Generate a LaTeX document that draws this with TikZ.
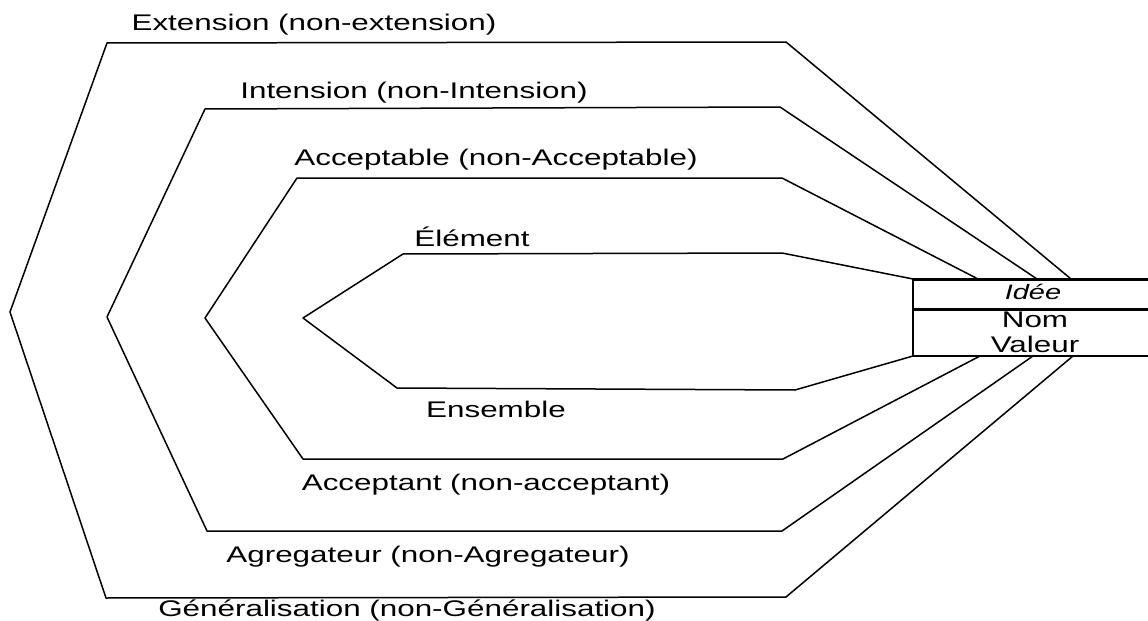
\documentclass[tikz,border=0pt]{standalone}
\usepackage{fontspec}
\setmainfont{Liberation Sans}
\newcommand{\plat}[1]{\scalebox{1}[0.72]{#1}}
\begin{document}
\begin{tikzpicture}
        [x=0.5pt,y=-0.5pt,
        lab/.style={font=\fontsize{15.7}{18}\selectfont,inner sep=0pt,anchor=base},
        contour/.style={line width=0.75pt,line join=round},
        trait/.style={line width=1.5pt}]
        \useasboundingbox (0,0) rectangle (1148,621);
        %Cadre
        \coordinate (Ho) at (913,279);
        \coordinate (Mi) at (913,309);
        \coordinate (Ba) at (913,356);
        \coordinate (HoD) at (1148,279);
        \coordinate (MiD) at (1148,309);
        \coordinate (BaD) at (1148,356);
        \draw [trait] (Ho) -- (HoD);
        \draw [trait] (Mi) -- (MiD);
        \draw [line width=1pt] (Ba) -- (BaD);
        \draw [contour] (Ho) -- (Ba);
        \node [lab,font=\fontsize{14.5}{18}\selectfont\itshape] (Idee) at (1033,299) {\plat{Idée}};
        \node [lab] (Nom) at (1035,327) {\plat{Nom}};
        \node [lab] (Val) at (1035,352) {\plat{Valeur}};
        %Contours
        \draw [contour] (Ho) -- (782,253) -- (403,254) -- (303,318) -- (397,388) -- (795,390) -- (Ba);
        \draw [contour] (978,279) -- (782,178) -- (297,178) -- (205,318) -- (303,459) -- (783,459) -- (980,356);
        \draw [contour] (1037,279) -- (780,107) -- (205,109) -- (107,317) -- (207,531) -- (782,531) -- (1033,356);
        \draw [contour] (1071,279) -- (786,42) -- (107,43) -- (10,312) -- (106,598) -- (786,597) -- (1073,356);
        %Etiquettes
        \node [lab] (Ext) at (314,31) {\plat{Extension (non-extension)}};
        \node [lab] (Int) at (414,98) {\plat{Intension (non-Intension)}};
        \node [lab] (Acb) at (496,165) {\plat{Acceptable (non-Acceptable)}};
        \node [lab] (Elt) at (472,246) {\plat{Élément}};
        \node [lab] (Ens) at (496,417) {\plat{Ensemble}};
        \node [lab] (Act) at (486,490) {\plat{Acceptant (non-acceptant)}};
        \node [lab] (Agr) at (428,562) {\plat{Agregateur (non-Agregateur)}};
        \node [lab] (Gen) at (407,616) {\plat{Généralisation (non-Généralisation)}};
\end{tikzpicture}
\end{document}
